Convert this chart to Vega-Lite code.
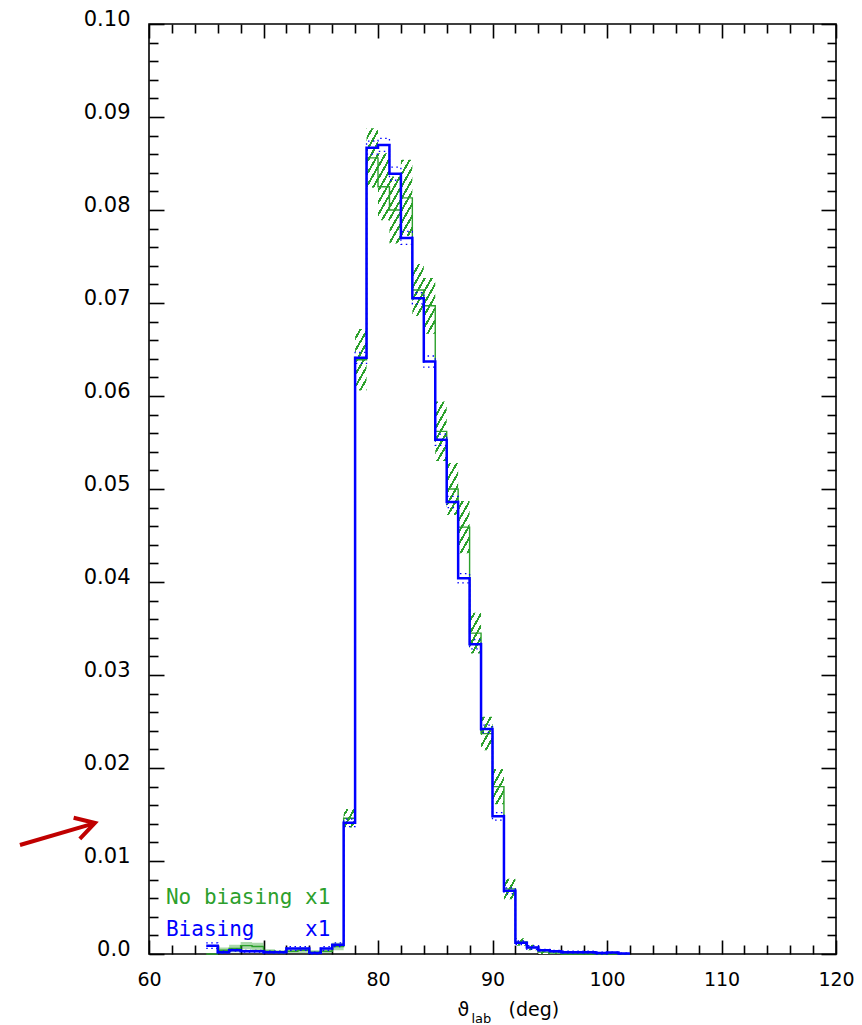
{
  "$schema": "https://vega.github.io/schema/vega-lite/v6.json",
  "width": 687,
  "height": 930,
  "autosize": {"type": "none"},
  "padding": {"left": 149, "top": 24, "right": 26, "bottom": 71},
  "background": "white",
  "config": {
    "view": {"stroke": "black", "strokeWidth": 1.6},
    "axis": {"grid": false, "domain": false}
  },
  "data": {
    "values": [
      {"lo": 65, "g": 0, "gl": 0, "gh": 0, "b": 0.0009, "bl": 0.0006, "bh": 0.0012},
      {"lo": 66, "g": 0.0004, "gl": 0.0001, "gh": 0.0007, "b": 0.0002, "bl": 0.0001, "bh": 0.0003},
      {"lo": 67, "g": 0.0006, "gl": 0.0002, "gh": 0.0010, "b": 0.0004, "bl": 0.0003, "bh": 0.0005},
      {"lo": 68, "g": 0.0009, "gl": 0.0005, "gh": 0.0013, "b": 0.0003, "bl": 0.0002, "bh": 0.0004},
      {"lo": 69, "g": 0.0008, "gl": 0.0004, "gh": 0.0012, "b": 0.0003, "bl": 0.0002, "bh": 0.0004},
      {"lo": 70, "g": 0.0003, "gl": 0.0001, "gh": 0.0005, "b": 0.0002, "bl": 0.0001, "bh": 0.0003},
      {"lo": 71, "g": 0.0002, "gl": 0, "gh": 0.0004, "b": 0.0002, "bl": 0.0001, "bh": 0.0003},
      {"lo": 72, "g": 0.0003, "gl": 0.0001, "gh": 0.0005, "b": 0.0006, "bl": 0.0004, "bh": 0.0008},
      {"lo": 73, "g": 0.0004, "gl": 0.0001, "gh": 0.0007, "b": 0.0006, "bl": 0.0004, "bh": 0.0008},
      {"lo": 74, "g": 0.0002, "gl": 0, "gh": 0.0004, "b": 0.0001, "bl": 0, "bh": 0.0002},
      {"lo": 75, "g": 0.0003, "gl": 0.0001, "gh": 0.0005, "b": 0.0006, "bl": 0.0004, "bh": 0.0008},
      {"lo": 76, "g": 0.0008, "gl": 0.0004, "gh": 0.0012, "b": 0.0010, "bl": 0.0008, "bh": 0.0012},
      {"lo": 77, "g": 0.0146, "gl": 0.0136, "gh": 0.0156, "b": 0.0141, "bl": 0.0137, "bh": 0.0145},
      {"lo": 78, "g": 0.0639, "gl": 0.0606, "gh": 0.0672, "b": 0.0641, "bl": 0.0635, "bh": 0.0647},
      {"lo": 79, "g": 0.0856, "gl": 0.0824, "gh": 0.0888, "b": 0.0867, "bl": 0.0860, "bh": 0.0874},
      {"lo": 80, "g": 0.0825, "gl": 0.0789, "gh": 0.0861, "b": 0.0870, "bl": 0.0863, "bh": 0.0877},
      {"lo": 81, "g": 0.0800, "gl": 0.0764, "gh": 0.0836, "b": 0.0839, "bl": 0.0832, "bh": 0.0846},
      {"lo": 82, "g": 0.0813, "gl": 0.0772, "gh": 0.0854, "b": 0.0770, "bl": 0.0763, "bh": 0.0777},
      {"lo": 83, "g": 0.0714, "gl": 0.0686, "gh": 0.0742, "b": 0.0705, "bl": 0.0699, "bh": 0.0711},
      {"lo": 84, "g": 0.0697, "gl": 0.0667, "gh": 0.0727, "b": 0.0637, "bl": 0.0631, "bh": 0.0643},
      {"lo": 85, "g": 0.0562, "gl": 0.0530, "gh": 0.0594, "b": 0.0553, "bl": 0.0547, "bh": 0.0559},
      {"lo": 86, "g": 0.0500, "gl": 0.0472, "gh": 0.0528, "b": 0.0486, "bl": 0.0480, "bh": 0.0492},
      {"lo": 87, "g": 0.0459, "gl": 0.0431, "gh": 0.0487, "b": 0.0404, "bl": 0.0399, "bh": 0.0409},
      {"lo": 88, "g": 0.0345, "gl": 0.0323, "gh": 0.0367, "b": 0.0333, "bl": 0.0328, "bh": 0.0338},
      {"lo": 89, "g": 0.0237, "gl": 0.0219, "gh": 0.0255, "b": 0.0242, "bl": 0.0238, "bh": 0.0246},
      {"lo": 90, "g": 0.0180, "gl": 0.0161, "gh": 0.0199, "b": 0.0148, "bl": 0.0144, "bh": 0.0152},
      {"lo": 91, "g": 0.0070, "gl": 0.0059, "gh": 0.0081, "b": 0.0068, "bl": 0.0065, "bh": 0.0071},
      {"lo": 92, "g": 0.0013, "gl": 0.0009, "gh": 0.0017, "b": 0.0012, "bl": 0.0010, "bh": 0.0014},
      {"lo": 93, "g": 0.0007, "gl": 0.0004, "gh": 0.0010, "b": 0.0007, "bl": 0.0005, "bh": 0.0009},
      {"lo": 94, "g": 0.0002, "gl": 0, "gh": 0.0004, "b": 0.0004, "bl": 0.0003, "bh": 0.0005},
      {"lo": 95, "g": 0.0001, "gl": 0, "gh": 0.0002, "b": 0.0003, "bl": 0.0002, "bh": 0.0004},
      {"lo": 96, "g": 0, "gl": 0, "gh": 0, "b": 0.0002, "bl": 0.0001, "bh": 0.0003},
      {"lo": 97, "g": 0, "gl": 0, "gh": 0, "b": 0.0002, "bl": 0.0001, "bh": 0.0003},
      {"lo": 98, "g": 0, "gl": 0, "gh": 0, "b": 0.0002, "bl": 0.0001, "bh": 0.0003},
      {"lo": 99, "g": 0, "gl": 0, "gh": 0, "b": 0.0001, "bl": 0, "bh": 0.0002},
      {"lo": 100, "g": 0, "gl": 0, "gh": 0, "b": 0.00015, "bl": 0.0001, "bh": 0.0002},
      {"lo": 101, "g": 0, "gl": 0, "gh": 0, "b": 0.00005, "bl": 0, "bh": 0.0001},
      {"lo": 102, "g": 0, "gl": 0, "gh": 0, "b": 0.00005, "bl": 0, "bh": 0.0001}
    ]
  },
  "resolve": {"axis": {"x": "independent", "y": "independent"}},
  "layer": [
    {
      "transform": [{"filter": "datum.lo >= 77 && datum.lo <= 96"}],
      "mark": {
        "type": "area", "interpolate": "step-after",
        "fill": {
          "gradient": "linear", "x1": 0, "y1": 0, "x2": 0.5501, "y2": 1.2053,
          "stops": [
            {"offset":0,"color":"#2ca02c"},{"offset":0.0033,"color":"#2ca02c"},{"offset":0.0033,"color":"#fff"},{"offset":0.01,"color":"#fff"},
            {"offset":0.01,"color":"#2ca02c"},{"offset":0.0133,"color":"#2ca02c"},{"offset":0.0133,"color":"#fff"},{"offset":0.02,"color":"#fff"},
            {"offset":0.02,"color":"#2ca02c"},{"offset":0.0233,"color":"#2ca02c"},{"offset":0.0233,"color":"#fff"},{"offset":0.03,"color":"#fff"},
            {"offset":0.03,"color":"#2ca02c"},{"offset":0.0333,"color":"#2ca02c"},{"offset":0.0333,"color":"#fff"},{"offset":0.04,"color":"#fff"},
            {"offset":0.04,"color":"#2ca02c"},{"offset":0.0433,"color":"#2ca02c"},{"offset":0.0433,"color":"#fff"},{"offset":0.05,"color":"#fff"},
            {"offset":0.05,"color":"#2ca02c"},{"offset":0.0533,"color":"#2ca02c"},{"offset":0.0533,"color":"#fff"},{"offset":0.06,"color":"#fff"},
            {"offset":0.06,"color":"#2ca02c"},{"offset":0.0633,"color":"#2ca02c"},{"offset":0.0633,"color":"#fff"},{"offset":0.07,"color":"#fff"},
            {"offset":0.07,"color":"#2ca02c"},{"offset":0.0733,"color":"#2ca02c"},{"offset":0.0733,"color":"#fff"},{"offset":0.08,"color":"#fff"},
            {"offset":0.08,"color":"#2ca02c"},{"offset":0.0833,"color":"#2ca02c"},{"offset":0.0833,"color":"#fff"},{"offset":0.09,"color":"#fff"},
            {"offset":0.09,"color":"#2ca02c"},{"offset":0.0933,"color":"#2ca02c"},{"offset":0.0933,"color":"#fff"},{"offset":0.10,"color":"#fff"},
            {"offset":0.10,"color":"#2ca02c"},{"offset":0.1033,"color":"#2ca02c"},{"offset":0.1033,"color":"#fff"},{"offset":0.11,"color":"#fff"},
            {"offset":0.11,"color":"#2ca02c"},{"offset":0.1133,"color":"#2ca02c"},{"offset":0.1133,"color":"#fff"},{"offset":0.12,"color":"#fff"},
            {"offset":0.12,"color":"#2ca02c"},{"offset":0.1233,"color":"#2ca02c"},{"offset":0.1233,"color":"#fff"},{"offset":0.13,"color":"#fff"},
            {"offset":0.13,"color":"#2ca02c"},{"offset":0.1333,"color":"#2ca02c"},{"offset":0.1333,"color":"#fff"},{"offset":0.14,"color":"#fff"},
            {"offset":0.14,"color":"#2ca02c"},{"offset":0.1433,"color":"#2ca02c"},{"offset":0.1433,"color":"#fff"},{"offset":0.15,"color":"#fff"},
            {"offset":0.15,"color":"#2ca02c"},{"offset":0.1533,"color":"#2ca02c"},{"offset":0.1533,"color":"#fff"},{"offset":0.16,"color":"#fff"},
            {"offset":0.16,"color":"#2ca02c"},{"offset":0.1633,"color":"#2ca02c"},{"offset":0.1633,"color":"#fff"},{"offset":0.17,"color":"#fff"},
            {"offset":0.17,"color":"#2ca02c"},{"offset":0.1733,"color":"#2ca02c"},{"offset":0.1733,"color":"#fff"},{"offset":0.18,"color":"#fff"},
            {"offset":0.18,"color":"#2ca02c"},{"offset":0.1833,"color":"#2ca02c"},{"offset":0.1833,"color":"#fff"},{"offset":0.19,"color":"#fff"},
            {"offset":0.19,"color":"#2ca02c"},{"offset":0.1933,"color":"#2ca02c"},{"offset":0.1933,"color":"#fff"},{"offset":0.20,"color":"#fff"},
            {"offset":0.20,"color":"#2ca02c"},{"offset":0.2033,"color":"#2ca02c"},{"offset":0.2033,"color":"#fff"},{"offset":0.21,"color":"#fff"},
            {"offset":0.21,"color":"#2ca02c"},{"offset":0.2133,"color":"#2ca02c"},{"offset":0.2133,"color":"#fff"},{"offset":0.22,"color":"#fff"},
            {"offset":0.22,"color":"#2ca02c"},{"offset":0.2233,"color":"#2ca02c"},{"offset":0.2233,"color":"#fff"},{"offset":0.23,"color":"#fff"},
            {"offset":0.23,"color":"#2ca02c"},{"offset":0.2333,"color":"#2ca02c"},{"offset":0.2333,"color":"#fff"},{"offset":0.24,"color":"#fff"},
            {"offset":0.24,"color":"#2ca02c"},{"offset":0.2433,"color":"#2ca02c"},{"offset":0.2433,"color":"#fff"},{"offset":0.25,"color":"#fff"},
            {"offset":0.25,"color":"#2ca02c"},{"offset":0.2533,"color":"#2ca02c"},{"offset":0.2533,"color":"#fff"},{"offset":0.26,"color":"#fff"},
            {"offset":0.26,"color":"#2ca02c"},{"offset":0.2633,"color":"#2ca02c"},{"offset":0.2633,"color":"#fff"},{"offset":0.27,"color":"#fff"},
            {"offset":0.27,"color":"#2ca02c"},{"offset":0.2733,"color":"#2ca02c"},{"offset":0.2733,"color":"#fff"},{"offset":0.28,"color":"#fff"},
            {"offset":0.28,"color":"#2ca02c"},{"offset":0.2833,"color":"#2ca02c"},{"offset":0.2833,"color":"#fff"},{"offset":0.29,"color":"#fff"},
            {"offset":0.29,"color":"#2ca02c"},{"offset":0.2933,"color":"#2ca02c"},{"offset":0.2933,"color":"#fff"},{"offset":0.30,"color":"#fff"},
            {"offset":0.30,"color":"#2ca02c"},{"offset":0.3033,"color":"#2ca02c"},{"offset":0.3033,"color":"#fff"},{"offset":0.31,"color":"#fff"},
            {"offset":0.31,"color":"#2ca02c"},{"offset":0.3133,"color":"#2ca02c"},{"offset":0.3133,"color":"#fff"},{"offset":0.32,"color":"#fff"},
            {"offset":0.32,"color":"#2ca02c"},{"offset":0.3233,"color":"#2ca02c"},{"offset":0.3233,"color":"#fff"},{"offset":0.33,"color":"#fff"},
            {"offset":0.33,"color":"#2ca02c"},{"offset":0.3333,"color":"#2ca02c"},{"offset":0.3333,"color":"#fff"},{"offset":0.34,"color":"#fff"},
            {"offset":0.34,"color":"#2ca02c"},{"offset":0.3433,"color":"#2ca02c"},{"offset":0.3433,"color":"#fff"},{"offset":0.35,"color":"#fff"},
            {"offset":0.35,"color":"#2ca02c"},{"offset":0.3533,"color":"#2ca02c"},{"offset":0.3533,"color":"#fff"},{"offset":0.36,"color":"#fff"},
            {"offset":0.36,"color":"#2ca02c"},{"offset":0.3633,"color":"#2ca02c"},{"offset":0.3633,"color":"#fff"},{"offset":0.37,"color":"#fff"},
            {"offset":0.37,"color":"#2ca02c"},{"offset":0.3733,"color":"#2ca02c"},{"offset":0.3733,"color":"#fff"},{"offset":0.38,"color":"#fff"},
            {"offset":0.38,"color":"#2ca02c"},{"offset":0.3833,"color":"#2ca02c"},{"offset":0.3833,"color":"#fff"},{"offset":0.39,"color":"#fff"},
            {"offset":0.39,"color":"#2ca02c"},{"offset":0.3933,"color":"#2ca02c"},{"offset":0.3933,"color":"#fff"},{"offset":0.40,"color":"#fff"},
            {"offset":0.40,"color":"#2ca02c"},{"offset":0.4033,"color":"#2ca02c"},{"offset":0.4033,"color":"#fff"},{"offset":0.41,"color":"#fff"},
            {"offset":0.41,"color":"#2ca02c"},{"offset":0.4133,"color":"#2ca02c"},{"offset":0.4133,"color":"#fff"},{"offset":0.42,"color":"#fff"},
            {"offset":0.42,"color":"#2ca02c"},{"offset":0.4233,"color":"#2ca02c"},{"offset":0.4233,"color":"#fff"},{"offset":0.43,"color":"#fff"},
            {"offset":0.43,"color":"#2ca02c"},{"offset":0.4333,"color":"#2ca02c"},{"offset":0.4333,"color":"#fff"},{"offset":0.44,"color":"#fff"},
            {"offset":0.44,"color":"#2ca02c"},{"offset":0.4433,"color":"#2ca02c"},{"offset":0.4433,"color":"#fff"},{"offset":0.45,"color":"#fff"},
            {"offset":0.45,"color":"#2ca02c"},{"offset":0.4533,"color":"#2ca02c"},{"offset":0.4533,"color":"#fff"},{"offset":0.46,"color":"#fff"},
            {"offset":0.46,"color":"#2ca02c"},{"offset":0.4633,"color":"#2ca02c"},{"offset":0.4633,"color":"#fff"},{"offset":0.47,"color":"#fff"},
            {"offset":0.47,"color":"#2ca02c"},{"offset":0.4733,"color":"#2ca02c"},{"offset":0.4733,"color":"#fff"},{"offset":0.48,"color":"#fff"},
            {"offset":0.48,"color":"#2ca02c"},{"offset":0.4833,"color":"#2ca02c"},{"offset":0.4833,"color":"#fff"},{"offset":0.49,"color":"#fff"},
            {"offset":0.49,"color":"#2ca02c"},{"offset":0.4933,"color":"#2ca02c"},{"offset":0.4933,"color":"#fff"},{"offset":0.50,"color":"#fff"},
            {"offset":0.50,"color":"#2ca02c"},{"offset":0.5033,"color":"#2ca02c"},{"offset":0.5033,"color":"#fff"},{"offset":0.51,"color":"#fff"},
            {"offset":0.51,"color":"#2ca02c"},{"offset":0.5133,"color":"#2ca02c"},{"offset":0.5133,"color":"#fff"},{"offset":0.52,"color":"#fff"},
            {"offset":0.52,"color":"#2ca02c"},{"offset":0.5233,"color":"#2ca02c"},{"offset":0.5233,"color":"#fff"},{"offset":0.53,"color":"#fff"},
            {"offset":0.53,"color":"#2ca02c"},{"offset":0.5333,"color":"#2ca02c"},{"offset":0.5333,"color":"#fff"},{"offset":0.54,"color":"#fff"},
            {"offset":0.54,"color":"#2ca02c"},{"offset":0.5433,"color":"#2ca02c"},{"offset":0.5433,"color":"#fff"},{"offset":0.55,"color":"#fff"},
            {"offset":0.55,"color":"#2ca02c"},{"offset":0.5533,"color":"#2ca02c"},{"offset":0.5533,"color":"#fff"},{"offset":0.56,"color":"#fff"},
            {"offset":0.56,"color":"#2ca02c"},{"offset":0.5633,"color":"#2ca02c"},{"offset":0.5633,"color":"#fff"},{"offset":0.57,"color":"#fff"},
            {"offset":0.57,"color":"#2ca02c"},{"offset":0.5733,"color":"#2ca02c"},{"offset":0.5733,"color":"#fff"},{"offset":0.58,"color":"#fff"},
            {"offset":0.58,"color":"#2ca02c"},{"offset":0.5833,"color":"#2ca02c"},{"offset":0.5833,"color":"#fff"},{"offset":0.59,"color":"#fff"},
            {"offset":0.59,"color":"#2ca02c"},{"offset":0.5933,"color":"#2ca02c"},{"offset":0.5933,"color":"#fff"},{"offset":0.60,"color":"#fff"},
            {"offset":0.60,"color":"#2ca02c"},{"offset":0.6033,"color":"#2ca02c"},{"offset":0.6033,"color":"#fff"},{"offset":0.61,"color":"#fff"},
            {"offset":0.61,"color":"#2ca02c"},{"offset":0.6133,"color":"#2ca02c"},{"offset":0.6133,"color":"#fff"},{"offset":0.62,"color":"#fff"},
            {"offset":0.62,"color":"#2ca02c"},{"offset":0.6233,"color":"#2ca02c"},{"offset":0.6233,"color":"#fff"},{"offset":0.63,"color":"#fff"},
            {"offset":0.63,"color":"#2ca02c"},{"offset":0.6333,"color":"#2ca02c"},{"offset":0.6333,"color":"#fff"},{"offset":0.64,"color":"#fff"},
            {"offset":0.64,"color":"#2ca02c"},{"offset":0.6433,"color":"#2ca02c"},{"offset":0.6433,"color":"#fff"},{"offset":0.65,"color":"#fff"},
            {"offset":0.65,"color":"#2ca02c"},{"offset":0.6533,"color":"#2ca02c"},{"offset":0.6533,"color":"#fff"},{"offset":0.66,"color":"#fff"},
            {"offset":0.66,"color":"#2ca02c"},{"offset":0.6633,"color":"#2ca02c"},{"offset":0.6633,"color":"#fff"},{"offset":0.67,"color":"#fff"},
            {"offset":0.67,"color":"#2ca02c"},{"offset":0.6733,"color":"#2ca02c"},{"offset":0.6733,"color":"#fff"},{"offset":0.68,"color":"#fff"},
            {"offset":0.68,"color":"#2ca02c"},{"offset":0.6833,"color":"#2ca02c"},{"offset":0.6833,"color":"#fff"},{"offset":0.69,"color":"#fff"},
            {"offset":0.69,"color":"#2ca02c"},{"offset":0.6933,"color":"#2ca02c"},{"offset":0.6933,"color":"#fff"},{"offset":0.70,"color":"#fff"},
            {"offset":0.70,"color":"#2ca02c"},{"offset":0.7033,"color":"#2ca02c"},{"offset":0.7033,"color":"#fff"},{"offset":0.71,"color":"#fff"},
            {"offset":0.71,"color":"#2ca02c"},{"offset":0.7133,"color":"#2ca02c"},{"offset":0.7133,"color":"#fff"},{"offset":0.72,"color":"#fff"},
            {"offset":0.72,"color":"#2ca02c"},{"offset":0.7233,"color":"#2ca02c"},{"offset":0.7233,"color":"#fff"},{"offset":0.73,"color":"#fff"},
            {"offset":0.73,"color":"#2ca02c"},{"offset":0.7333,"color":"#2ca02c"},{"offset":0.7333,"color":"#fff"},{"offset":0.74,"color":"#fff"},
            {"offset":0.74,"color":"#2ca02c"},{"offset":0.7433,"color":"#2ca02c"},{"offset":0.7433,"color":"#fff"},{"offset":0.75,"color":"#fff"},
            {"offset":0.75,"color":"#2ca02c"},{"offset":0.7533,"color":"#2ca02c"},{"offset":0.7533,"color":"#fff"},{"offset":0.76,"color":"#fff"},
            {"offset":0.76,"color":"#2ca02c"},{"offset":0.7633,"color":"#2ca02c"},{"offset":0.7633,"color":"#fff"},{"offset":0.77,"color":"#fff"},
            {"offset":0.77,"color":"#2ca02c"},{"offset":0.7733,"color":"#2ca02c"},{"offset":0.7733,"color":"#fff"},{"offset":0.78,"color":"#fff"},
            {"offset":0.78,"color":"#2ca02c"},{"offset":0.7833,"color":"#2ca02c"},{"offset":0.7833,"color":"#fff"},{"offset":0.79,"color":"#fff"},
            {"offset":0.79,"color":"#2ca02c"},{"offset":0.7933,"color":"#2ca02c"},{"offset":0.7933,"color":"#fff"},{"offset":0.80,"color":"#fff"},
            {"offset":0.80,"color":"#2ca02c"},{"offset":0.8033,"color":"#2ca02c"},{"offset":0.8033,"color":"#fff"},{"offset":0.81,"color":"#fff"},
            {"offset":0.81,"color":"#2ca02c"},{"offset":0.8133,"color":"#2ca02c"},{"offset":0.8133,"color":"#fff"},{"offset":0.82,"color":"#fff"},
            {"offset":0.82,"color":"#2ca02c"},{"offset":0.8233,"color":"#2ca02c"},{"offset":0.8233,"color":"#fff"},{"offset":0.83,"color":"#fff"},
            {"offset":0.83,"color":"#2ca02c"},{"offset":0.8333,"color":"#2ca02c"},{"offset":0.8333,"color":"#fff"},{"offset":0.84,"color":"#fff"},
            {"offset":0.84,"color":"#2ca02c"},{"offset":0.8433,"color":"#2ca02c"},{"offset":0.8433,"color":"#fff"},{"offset":0.85,"color":"#fff"},
            {"offset":0.85,"color":"#2ca02c"},{"offset":0.8533,"color":"#2ca02c"},{"offset":0.8533,"color":"#fff"},{"offset":0.86,"color":"#fff"},
            {"offset":0.86,"color":"#2ca02c"},{"offset":0.8633,"color":"#2ca02c"},{"offset":0.8633,"color":"#fff"},{"offset":0.87,"color":"#fff"},
            {"offset":0.87,"color":"#2ca02c"},{"offset":0.8733,"color":"#2ca02c"},{"offset":0.8733,"color":"#fff"},{"offset":0.88,"color":"#fff"},
            {"offset":0.88,"color":"#2ca02c"},{"offset":0.8833,"color":"#2ca02c"},{"offset":0.8833,"color":"#fff"},{"offset":0.89,"color":"#fff"},
            {"offset":0.89,"color":"#2ca02c"},{"offset":0.8933,"color":"#2ca02c"},{"offset":0.8933,"color":"#fff"},{"offset":0.90,"color":"#fff"},
            {"offset":0.90,"color":"#2ca02c"},{"offset":0.9033,"color":"#2ca02c"},{"offset":0.9033,"color":"#fff"},{"offset":0.91,"color":"#fff"},
            {"offset":0.91,"color":"#2ca02c"},{"offset":0.9133,"color":"#2ca02c"},{"offset":0.9133,"color":"#fff"},{"offset":0.92,"color":"#fff"},
            {"offset":0.92,"color":"#2ca02c"},{"offset":0.9233,"color":"#2ca02c"},{"offset":0.9233,"color":"#fff"},{"offset":0.93,"color":"#fff"},
            {"offset":0.93,"color":"#2ca02c"},{"offset":0.9333,"color":"#2ca02c"},{"offset":0.9333,"color":"#fff"},{"offset":0.94,"color":"#fff"},
            {"offset":0.94,"color":"#2ca02c"},{"offset":0.9433,"color":"#2ca02c"},{"offset":0.9433,"color":"#fff"},{"offset":0.95,"color":"#fff"},
            {"offset":0.95,"color":"#2ca02c"},{"offset":0.9533,"color":"#2ca02c"},{"offset":0.9533,"color":"#fff"},{"offset":0.96,"color":"#fff"},
            {"offset":0.96,"color":"#2ca02c"},{"offset":0.9633,"color":"#2ca02c"},{"offset":0.9633,"color":"#fff"},{"offset":0.97,"color":"#fff"},
            {"offset":0.97,"color":"#2ca02c"},{"offset":0.9733,"color":"#2ca02c"},{"offset":0.9733,"color":"#fff"},{"offset":0.98,"color":"#fff"},
            {"offset":0.98,"color":"#2ca02c"},{"offset":0.9833,"color":"#2ca02c"},{"offset":0.9833,"color":"#fff"},{"offset":0.99,"color":"#fff"},
            {"offset":0.99,"color":"#2ca02c"},{"offset":0.9933,"color":"#2ca02c"},{"offset":0.9933,"color":"#fff"},{"offset":1,"color":"#fff"}
          ]
        }
      },
      "encoding": {
        "x": {
          "field": "lo", "type": "quantitative",
          "scale": {"domain": [60, 120], "nice": false, "zero": false},
          "axis": {
            "orient": "bottom", "values": [60, 70, 80, 90, 100, 110, 120],
            "ticks": false, "tickSize": 0, "domain": false,
            "labelFont": "DejaVu Sans", "labelFontSize": 19, "labelColor": "black",
            "labelPadding": 31, "labelBaseline": "alphabetic", "labelFlush": false, "labelOverlap": false,
            "title": "ϑ", "titleFont": "DejaVu Sans", "titleFontSize": 19, "titleFontWeight": "normal",
            "titleColor": "black", "titleX": 308, "titleY": 61, "titleAlign": "left", "titleBaseline": "alphabetic"
          }
        },
        "y": {
          "field": "gh", "type": "quantitative",
          "scale": {"domain": [0, 0.1], "nice": false, "zero": true},
          "axis": {
            "orient": "left", "values": [0, 0.01, 0.02, 0.03, 0.04, 0.05, 0.06, 0.07, 0.08, 0.09, 0.1],
            "ticks": false, "tickSize": 0, "domain": false,
            "labelExpr": "datum.value == 0 ? '0.0' : format(datum.value, '.2f')",
            "labelFont": "DejaVu Sans", "labelFontSize": 21, "labelColor": "black",
            "labelPadding": 19, "labelBaseline": "alphabetic", "labelOffset": 1,
            "labelFlush": false, "labelOverlap": false, "title": null
          }
        },
        "y2": {"field": "gl"}
      }
    },
    {
      "transform": [{"filter": "datum.lo <= 77"}],
      "mark": {"type": "area", "interpolate": "step-after", "color": "#2ca02c", "opacity": 0.4},
      "encoding": {
        "x": {"field": "lo", "type": "quantitative", "axis": null},
        "y": {"field": "gh", "type": "quantitative", "axis": null},
        "y2": {"field": "gl"}
      }
    },
    {
      "mark": {"type": "line", "interpolate": "step-after", "color": "#2ca02c", "strokeWidth": 1.4},
      "encoding": {
        "x": {
          "field": "lo", "type": "quantitative",
          "axis": {
            "orient": "bottom",
            "values": [60,62,64,66,68,70,72,74,76,78,80,82,84,86,88,90,92,94,96,98,100,102,104,106,108,110,112,114,116,118,120],
            "labels": false, "domain": false, "ticks": true, "tickColor": "black", "tickWidth": 1.6,
            "tickSize": {"condition": {"test": "datum.value % 10 === 0", "value": -14}, "value": -9},
            "title": "lab", "titleFont": "DejaVu Sans", "titleFontSize": 13, "titleFontWeight": "normal",
            "titleColor": "black", "titleX": 322, "titleY": 68, "titleAlign": "left", "titleBaseline": "alphabetic"
          }
        },
        "y": {
          "field": "g", "type": "quantitative",
          "axis": {
            "orient": "left",
            "values": [0,0.002,0.004,0.006,0.008,0.01,0.012,0.014,0.016,0.018,0.02,0.022,0.024,0.026,0.028,0.03,0.032,0.034,0.036,0.038,0.04,0.042,0.044,0.046,0.048,0.05,0.052,0.054,0.056,0.058,0.06,0.062,0.064,0.066,0.068,0.07,0.072,0.074,0.076,0.078,0.08,0.082,0.084,0.086,0.088,0.09,0.092,0.094,0.096,0.098,0.1],
            "labels": false, "domain": false, "ticks": true, "tickColor": "black", "tickWidth": 1.6,
            "tickSize": {"condition": {"test": "abs(datum.value*100 - round(datum.value*100)) < 0.01", "value": -15}, "value": -9},
            "title": null
          }
        }
      }
    },
    {
      "mark": {"type": "line", "interpolate": "step-after", "color": "#0000ff", "strokeWidth": 1.3, "strokeDash": [1.5, 3.5]},
      "encoding": {
        "x": {
          "field": "lo", "type": "quantitative",
          "axis": {
            "orient": "top",
            "values": [60,62,64,66,68,70,72,74,76,78,80,82,84,86,88,90,92,94,96,98,100,102,104,106,108,110,112,114,116,118,120],
            "labels": false, "domain": false, "ticks": true, "tickColor": "black", "tickWidth": 1.6,
            "tickSize": {"condition": {"test": "datum.value % 10 === 0", "value": -14}, "value": -9},
            "title": "(deg)", "titleFont": "DejaVu Sans", "titleFontSize": 19, "titleFontWeight": "normal",
            "titleColor": "black", "titleX": 359, "titleY": 991, "titleAlign": "left", "titleBaseline": "alphabetic"
          }
        },
        "y": {
          "field": "bh", "type": "quantitative",
          "axis": {
            "orient": "right",
            "values": [0,0.002,0.004,0.006,0.008,0.01,0.012,0.014,0.016,0.018,0.02,0.022,0.024,0.026,0.028,0.03,0.032,0.034,0.036,0.038,0.04,0.042,0.044,0.046,0.048,0.05,0.052,0.054,0.056,0.058,0.06,0.062,0.064,0.066,0.068,0.07,0.072,0.074,0.076,0.078,0.08,0.082,0.084,0.086,0.088,0.09,0.092,0.094,0.096,0.098,0.1],
            "labels": false, "domain": false, "ticks": true, "tickColor": "black", "tickWidth": 1.6,
            "tickSize": {"condition": {"test": "abs(datum.value*100 - round(datum.value*100)) < 0.01", "value": -15}, "value": -9},
            "title": null
          }
        }
      }
    },
    {
      "mark": {"type": "line", "interpolate": "step-after", "color": "#0000ff", "strokeWidth": 1.3, "strokeDash": [1.5, 3.5]},
      "encoding": {
        "x": {"field": "lo", "type": "quantitative", "axis": null},
        "y": {"field": "bl", "type": "quantitative", "axis": null}
      }
    },
    {
      "mark": {"type": "line", "interpolate": "step-after", "color": "#0000ff", "strokeWidth": 2.5},
      "encoding": {
        "x": {"field": "lo", "type": "quantitative", "axis": null},
        "y": {"field": "b", "type": "quantitative", "axis": null}
      }
    },
    {
      "data": {"values": [{"label": "No biasing x1"}]},
      "mark": {"type": "text", "font": "DejaVu Sans Mono", "fontSize": 21, "align": "left", "baseline": "alphabetic", "color": "#2ca02c"},
      "encoding": {
        "x": {"datum": 61.48, "type": "quantitative", "axis": null},
        "y": {"datum": 0.00534, "type": "quantitative", "axis": null},
        "text": {"field": "label"}
      }
    },
    {
      "data": {"values": [{"label": "Biasing\u00a0\u00a0\u00a0\u00a0x1"}]},
      "mark": {"type": "text", "font": "DejaVu Sans Mono", "fontSize": 21, "align": "left", "baseline": "alphabetic", "color": "#0000ff"},
      "encoding": {
        "x": {"datum": 61.48, "type": "quantitative", "axis": null},
        "y": {"datum": 0.00194, "type": "quantitative", "axis": null},
        "text": {"field": "label"}
      }
    },
    {
      "data": {"values": [{"note": "arrow"}]},
      "mark": {"type": "rule", "color": "#c00000", "strokeWidth": 4},
      "encoding": {
        "x": {"datum": 48.73, "type": "quantitative", "axis": null},
        "x2": {"datum": 55.2},
        "y": {"datum": 0.01172, "type": "quantitative", "axis": null},
        "y2": {"datum": 0.01405}
      }
    },
    {
      "data": {"values": [{"note": "arrowhead"}]},
      "mark": {"type": "point", "shape": "M-1,-0.58L0,0L-1,0.58", "filled": false, "stroke": "#c00000", "strokeWidth": 4, "size": 1444, "angle": -16.3, "opacity": 1},
      "encoding": {
        "x": {"datum": 55.28, "type": "quantitative", "axis": null},
        "y": {"datum": 0.01409, "type": "quantitative", "axis": null}
      }
    }
  ]
}
